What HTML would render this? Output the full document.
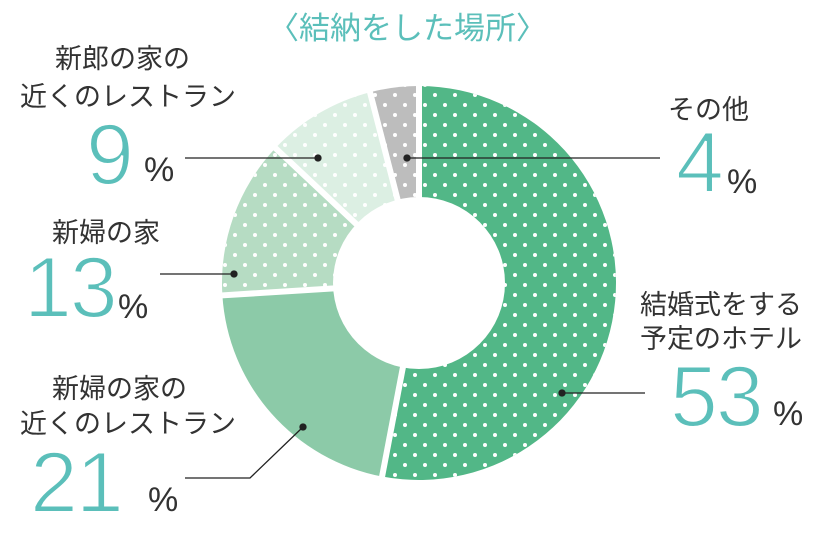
<!DOCTYPE html>
<html><head><meta charset="utf-8"><style>
body{margin:0;background:#fff;width:828px;height:552px;overflow:hidden;position:relative;font-family:"Liberation Sans","Noto Sans CJK JP",sans-serif}
.t{position:absolute;white-space:nowrap;color:#333;font-size:27px;line-height:1}
.n{position:absolute;color:#5bbfba;font-size:86px;line-height:1;font-weight:normal;letter-spacing:-2px;-webkit-text-stroke:2px #fff;paint-order:normal}
.p{position:absolute;color:#333;font-size:34px;line-height:1}
</style></head><body>
<svg width="828" height="552" style="position:absolute;left:0;top:0">
<defs>
<pattern id="d" width="20" height="20" patternUnits="userSpaceOnUse"><circle cx="5" cy="5" r="2" fill="#fff"/><circle cx="15" cy="15" r="2" fill="#fff"/></pattern>
</defs>
<g id="slices"></g>
<circle cx="419" cy="283" r="86" fill="#fff"/>
<g stroke="#222" stroke-width="1.3" fill="#222">
<line x1="185" y1="158" x2="318" y2="158"/><circle cx="318" cy="158" r="3"/>
<line x1="407" y1="158" x2="660" y2="158"/><circle cx="407" cy="158" r="3"/>
<line x1="160" y1="274" x2="234" y2="274"/><circle cx="234" cy="274" r="3"/>
<line x1="562" y1="393" x2="645" y2="393"/><circle cx="562" cy="393" r="3"/>
<polyline points="185,478 250,478 303,427" fill="none"/><circle cx="303" cy="427" r="3"/>
</g>
</svg>
<script>
(function(){
var cx=419,cy=283,R=197,r=86;
var d=[[53,"#52b787",1],[21,"#8ccaa8",0],[13,"#b6dcc3",1],[9,"#dcefe3",1],[4,"#bdbdbd",1]];
var a=0,s="",g="";
function pt(ang,rad){var t=(ang-90)*Math.PI/180;return [cx+rad*Math.cos(t),cy+rad*Math.sin(t)];}
d.forEach(function(x){var b=a+x[0]*3.6;var p1=pt(a,R),p2=pt(b,R);var lg=(b-a)>180?1:0;
var path="M"+cx+","+cy+" L"+p1+" A"+R+","+R+" 0 "+lg+" 1 "+p2+" Z";
s+='<path d="'+path+'" fill="'+x[1]+'"/>';
if(x[2])s+='<path d="'+path+'" fill="url(#d)"/>';
var e=pt(a,R+5);g+='<line x1="'+cx+'" y1="'+cy+'" x2="'+e[0]+'" y2="'+e[1]+'" stroke="#fff" stroke-width="6"/>';
a=b;});
document.getElementById("slices").innerHTML=s+g;
})();
</script>
<div class="t" style="left:268px;top:13px;font-size:31px;color:#5bbfba">〈結納をした場所〉</div>
<div class="t" style="left:55px;top:46px">新郎の家の</div>
<div class="t" style="left:20px;top:84px">近くのレストラン</div>
<div class="n" style="left:86px;top:112px">9</div><div class="p" style="left:144px;top:153px">%</div>
<div class="t" style="left:52px;top:220px">新婦の家</div>
<div class="n" style="left:24px;top:245px">13</div><div class="p" style="left:118px;top:290px">%</div>
<div class="t" style="left:52px;top:376px">新婦の家の</div>
<div class="t" style="left:20px;top:411px">近くのレストラン</div>
<div class="n" style="left:30px;top:440px">21</div><div class="p" style="left:148px;top:483px">%</div>
<div class="t" style="left:668px;top:97px">その他</div>
<div class="n" style="left:676px;top:120px">4</div><div class="p" style="left:727px;top:165px">%</div>
<div class="t" style="left:640px;top:292px">結婚式をする</div>
<div class="t" style="left:640px;top:326px">予定のホテル</div>
<div class="n" style="left:670px;top:354px">53</div><div class="p" style="left:773px;top:397px">%</div>
</body></html>
